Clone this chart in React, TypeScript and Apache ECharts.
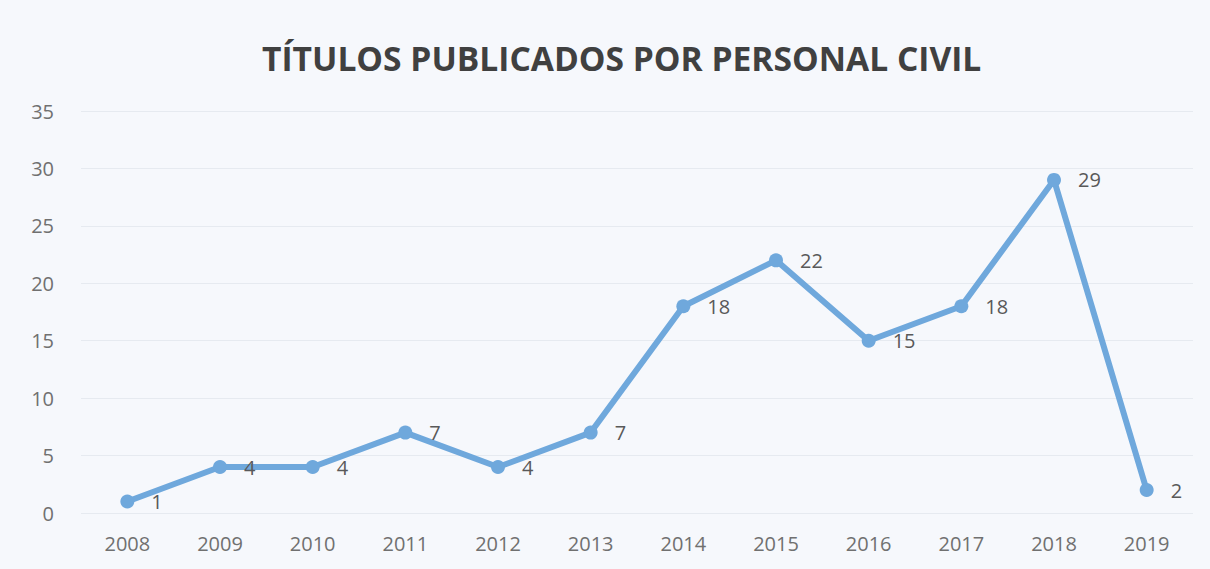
import React, { useEffect, useRef } from "react";
import * as echarts from "echarts";

const years = ["2008", "2009", "2010", "2011", "2012", "2013", "2014", "2015", "2016", "2017", "2018", "2019"];
const titles = [1, 4, 4, 7, 4, 7, 18, 22, 15, 18, 29, 2];
const titleText = "TÍTULOS PUBLICADOS POR PERSONAL CIVIL";

export default function App() {
  const ref = useRef<HTMLDivElement>(null);
  useEffect(() => {
    if (!ref.current) return;
    const chart = echarts.init(ref.current, undefined, { renderer: "svg" });
    chart.setOption({
      animation: false,
      backgroundColor: "#f6f8fc",
      title: {
        text: titleText,
        left: 257,
        top: 36,
        textStyle: { fontFamily: "Open Sans", fontWeight: "bold", fontSize: 33.6, color: "#404040" },
      },
      grid: { left: 81, right: 17, top: 111, bottom: 56 },
      xAxis: {
        type: "category",
        data: years,
        boundaryGap: true,
        axisLine: { show: false },
        axisTick: { show: false },
        axisLabel: { fontFamily: "Open Sans", fontSize: 20, color: "#707070", margin: 20 },
      },
      yAxis: {
        type: "value",
        min: 0,
        max: 35,
        interval: 5,
        axisLine: { show: false },
        axisTick: { show: false },
        splitLine: { lineStyle: { color: "#e6eaf0", width: 1 } },
        axisLabel: { fontFamily: "Open Sans", fontSize: 20, color: "#707070", margin: 27 },
      },
      series: [
        {
          type: "line",
          data: titles,
          symbol: "circle",
          symbolSize: 14,
          lineStyle: { color: "#6fa8dc", width: 6 },
          itemStyle: { color: "#6fa8dc" },
          label: {
            show: true,
            position: "right",
            distance: 17,
            fontFamily: "Open Sans",
            fontSize: 20,
            color: "#595959",
          },
        },
      ],
    });
    return () => chart.dispose();
  }, []);
  return <div ref={ref} style={{ position: "absolute", left: 0, top: 0, width: 1210, height: 569 }} />;
}
